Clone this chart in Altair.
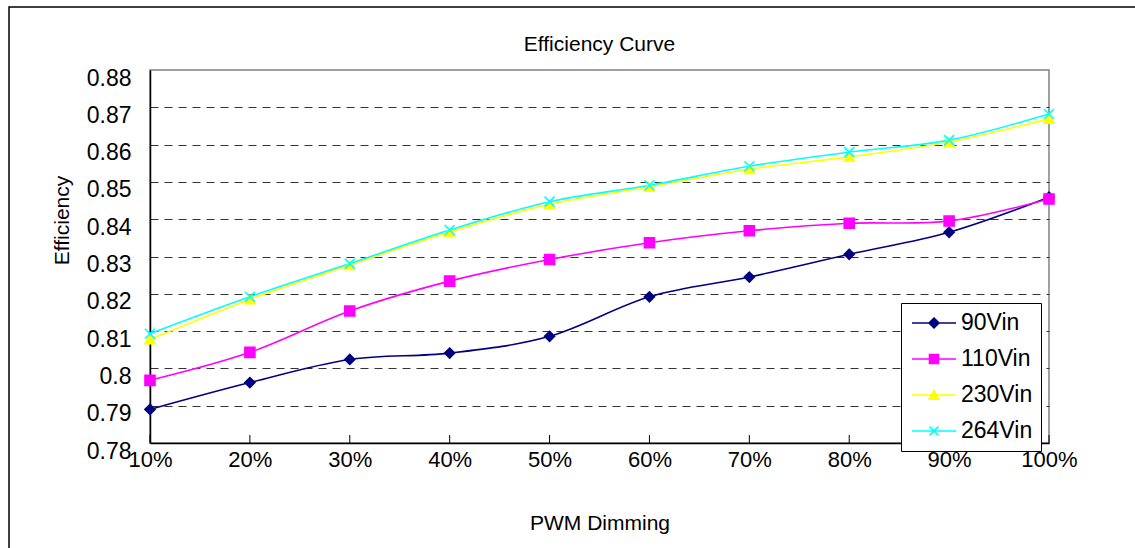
import altair as alt
import pandas as pd

FONT = "Liberation Sans"

chart_title = "Efficiency Curve"

# PWM dimming duty cycles (x categories)
dimming = ["10%", "20%", "30%", "40%", "50%", "60%", "70%", "80%", "90%", "100%"]

# Efficiency per input voltage
series_names = ["90Vin", "110Vin", "230Vin", "264Vin"]
eff_90vin = [0.7890, 0.7962, 0.8024, 0.8041, 0.8086, 0.8192, 0.8245, 0.8306, 0.8365, 0.8459]
eff_110vin = [0.7968, 0.8043, 0.8154, 0.8234, 0.8292, 0.8337, 0.8369, 0.8389, 0.8395, 0.8454]
eff_230vin = [0.8078, 0.8185, 0.8277, 0.8366, 0.8440, 0.8487, 0.8534, 0.8567, 0.8607, 0.8669]
eff_264vin = [0.8093, 0.8192, 0.8281, 0.8371, 0.8447, 0.8491, 0.8542, 0.8580, 0.8612, 0.8682]

# Y axis tick values
y_ticks = [0.78, 0.79, 0.80, 0.81, 0.82, 0.83, 0.84, 0.85, 0.86, 0.87, 0.88]

series_colors = ["#000080", "#FF00FF", "#FFFF00", "#00FFFF"]
marker_shapes = ["diamond", "square", "triangle-up", "M-1,-1L1,1M-1,1L1,-1"]
# legend keys: a short line segment with the marker on top
legend_shapes = [
    "M-2,0H2M0,-0.45L0.45,0L0,0.45L-0.45,0Z",
    "M-2,0H2M-0.41,-0.41H0.41V0.41H-0.41Z",
    "M-2,0H2M0,-0.39L0.45,0.39L-0.45,0.39Z",
    "M-2,0H2M-0.4,-0.4L0.4,0.4M-0.4,0.4L0.4,-0.4",
]

rows = []
for name, vals in zip(series_names, [eff_90vin, eff_110vin, eff_230vin, eff_264vin]):
    for d, v in zip(dimming, vals):
        rows.append({"dimming": d, "series": name, "eff": v})
df = pd.DataFrame(rows)

W, H = 899, 373

x_scale = alt.Scale(type="point", padding=0)
x_axis = alt.Axis(
    title="PWM Dimming",
    labelAngle=0,
    labelFont=FONT,
    labelFontSize=22,
    labelColor="black",
    labelPadding=6,
    ticks=False,
    domainColor="black",
    domainWidth=1.5,
    grid=False,
    titleFont=FONT,
    titleFontSize=21,
    titleFontWeight="normal",
    titleColor="black",
    titleY=80,
    titleBaseline="middle",
)
x_enc = alt.X("dimming:O", sort=dimming, scale=x_scale, axis=x_axis)

y_enc = alt.Y(
    "eff:Q",
    scale=alt.Scale(domain=[0.78, 0.88], nice=False, zero=False),
    axis=alt.Axis(
        title="Efficiency",
        values=y_ticks,
        format="~g",
        labelFont=FONT,
        labelFontSize=23,
        labelColor="black",
        labelPadding=19,
        labelOffset=8,
        ticks=False,
        domainColor="black",
        domainWidth=1.5,
        grid=True,
        gridColor="#333333",
        gridDash=[8, 6],
        gridWidth=1,
        gridOpacity={"condition": {"test": "datum.value > 0.875 || datum.value < 0.785", "value": 0}, "value": 1},
        titleFont=FONT,
        titleFontSize=21,
        titleFontWeight="normal",
        titleColor="black",
        titleX=-88,
        titleY=150,
        titleBaseline="middle",
    ),
)

color_scale = alt.Scale(domain=series_names, range=series_colors)

base = alt.Chart(df)

lines = base.mark_line(strokeWidth=1.6, interpolate="cardinal").encode(
    x=x_enc,
    y=y_enc,
    color=alt.Color("series:N", scale=color_scale, legend=None),
    detail="series:N",
)

points = base.mark_point(filled=True, size=100, opacity=1, strokeWidth=1.6).encode(
    x=x_enc,
    y=y_enc,
    fill=alt.Fill("series:N", scale=color_scale, legend=None),
    stroke=alt.Stroke("series:N", scale=color_scale, legend=None),
    shape=alt.Shape("series:N", scale=alt.Scale(domain=series_names, range=marker_shapes), legend=None),
)

legend_def = alt.Legend(
    orient="none",
    legendX=751,
    legendY=233,
    title=None,
    fillColor="white",
    strokeColor="black",
    padding=8,
    labelFont=FONT,
    labelFontSize=23,
    labelColor="black",
    symbolSize=484,
    symbolStrokeWidth=1.6,
    symbolOffset=13,
    rowPadding=12,
    labelOffset=15,
)

legend_layer = base.transform_filter("false").mark_point(filled=True, size=484, opacity=1).encode(
    x=x_enc,
    y=y_enc,
    fill=alt.Fill("series:N", scale=alt.Scale(domain=series_names, range=series_colors), legend=legend_def),
    stroke=alt.Stroke("series:N", scale=alt.Scale(domain=series_names, range=series_colors), legend=legend_def),
    shape=alt.Shape("series:N", scale=alt.Scale(domain=series_names, range=legend_shapes), legend=legend_def),
)

# small inward ticks along the category axis
ticks = alt.Chart(pd.DataFrame({"dimming": dimming})).mark_rule(color="black", strokeWidth=1).encode(
    x=x_enc,
    y=alt.value(H),
    y2=alt.value(H - 8),
)

# outer frame around the whole figure
frame = alt.Chart(pd.DataFrame({"k": [0]})).mark_rect(fill="transparent", stroke="black", strokeWidth=1.5).encode(
    x=alt.value(-141),
    x2=alt.value(W + 200),
    y=alt.value(-63),
    y2=alt.value(H + 200),
)

# chart heading, centred over the plot area
heading = alt.Chart(pd.DataFrame({"k": [0]})).mark_text(
    font=FONT, fontSize=21, color="black", align="center", baseline="middle"
).encode(
    x=alt.value(W / 2),
    y=alt.value(-25),
    text=alt.value(chart_title),
)

chart = (
    alt.layer(frame, heading, lines, points, ticks, legend_layer)
    .resolve_scale(shape="independent", fill="independent", stroke="independent")
    .properties(
        width=W,
        height=H,
        padding={"left": 150, "top": 70, "right": 86, "bottom": 105},
        autosize=alt.AutoSizeParams(type="none"),
        background="white",
    )
    .configure_view(stroke="#808080", strokeWidth=1.5)
)

chart.save("out.html", embed_options={"renderer": "svg", "actions": False})
